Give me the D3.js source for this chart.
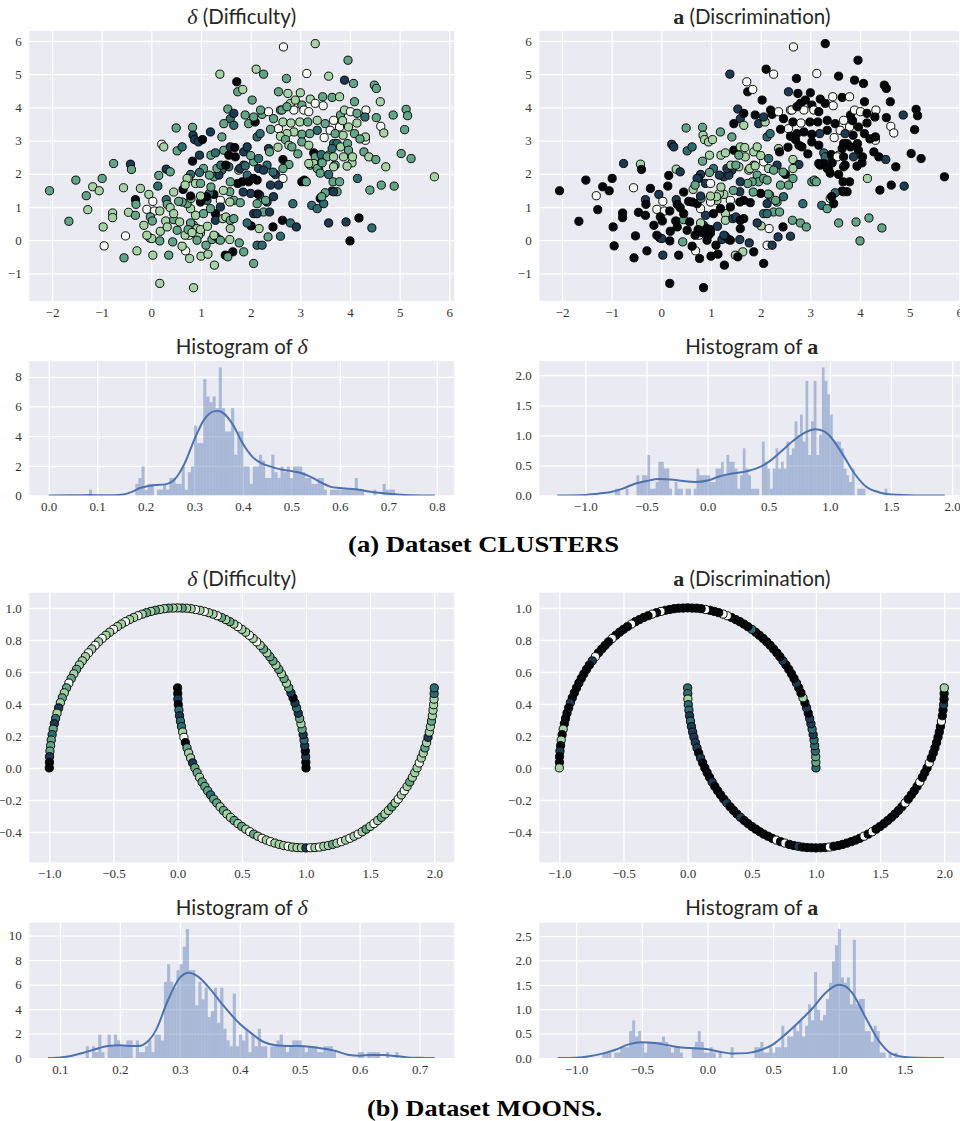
<!DOCTYPE html>
<html>
<head>
<meta charset="utf-8">
<script src="https://cdn.jsdelivr.net/npm/d3@7"></script>
<style>
  body { margin: 0; background: #fff; }
  svg { display: block; }
</style>
</head>
<body>
<svg id="fig" width="960" height="1121"></svg>
<script>
// ---------------- CLUSTERS dataset: [x, y, delta level, a level] ----------------
// level 0 = lightest ... 5 = darkest on the cubehelix-style ramp
const clusterPoints = [
  [2.66,5.82,0,0],[3.30,5.92,1,5],[1.38,5.00,1,4],[2.11,5.15,1,5],[2.26,5.00,2,0],[3.13,5.02,0,0],
  [3.57,4.94,1,5],[3.96,5.42,2,5],[3.89,4.82,4,5],[4.07,4.72,2,5],[4.49,4.67,2,5],[4.53,4.57,2,5],
  [2.72,4.87,2,5],[1.72,4.77,5,0],[1.74,4.47,2,5],[1.84,4.54,1,0],[2.03,4.22,2,5],[2.56,4.47,2,4],
  [2.75,4.42,1,5],[3.00,4.44,1,5],[3.20,4.25,1,5],[3.45,4.32,2,0],[3.64,4.30,2,5],[3.79,4.32,1,0],
  [4.09,4.17,2,5],[4.61,4.17,1,5],[2.80,4.12,1,5],[3.03,4.07,2,5],[3.30,4.12,0,5],[3.46,4.05,0,0],
  [2.60,3.92,2,0],[1.54,3.95,2,4],[1.59,3.66,3,4],[1.46,3.51,2,5],[1.66,3.46,3,1],[1.89,3.77,2,5],
  [1.96,3.51,2,4],[2.09,3.56,5,1],[2.23,3.79,2,5],[2.36,3.87,0,0],[2.46,3.66,2,5],[2.63,3.92,2,0],
  [2.56,3.36,0,0],[2.40,3.34,2,5],[2.65,3.56,1,5],[2.81,3.53,1,0],[2.87,3.92,0,0],[3.07,3.92,0,0],
  [3.17,3.87,0,5],[2.99,3.56,1,5],[3.15,3.56,2,5],[3.34,3.61,1,5],[3.50,3.51,2,5],[3.67,3.61,0,0],
  [3.81,3.77,2,5],[3.89,3.92,1,0],[4.01,3.87,0,0],[4.14,3.82,2,5],[4.32,3.92,0,0],[4.30,3.71,3,5],
  [4.53,3.69,2,5],[4.87,3.77,2,4],[5.13,3.94,2,5],[5.16,3.75,2,5],[4.62,3.43,0,0],[4.68,3.23,1,0],
  [5.10,3.33,2,5],[3.79,3.41,0,0],[3.60,3.31,0,0],[3.97,3.41,1,5],[4.14,3.53,1,5],[4.09,3.21,2,5],
  [3.86,3.16,1,5],[3.70,3.21,2,4],[3.48,3.09,0,0],[3.34,3.31,3,5],[3.19,3.21,2,4],[3.03,3.19,2,5],
  [2.87,3.26,1,5],[2.73,3.21,1,5],[2.60,3.13,1,5],[2.70,3.03,2,5],[2.13,3.11,3,3],[2.19,3.21,3,3],
  [1.66,3.82,4,5],[1.19,3.26,4,2],[0.83,3.40,2,2],[0.84,3.16,4,1],[0.50,3.38,2,2],[1.42,3.11,2,2],
  [4.31,3.01,0,0],[4.31,3.11,1,5],[4.28,2.66,2,5],[0.21,2.89,0,4],[0.25,2.81,1,4],[0.52,2.69,2,3],
  [0.62,2.81,3,3],[0.87,3.03,4,1],[0.95,2.96,4,1],[1.03,3.03,5,1],[0.97,2.56,4,1],[0.83,2.38,5,2],
  [1.20,2.56,2,1],[1.29,2.63,3,1],[1.46,2.71,2,5],[1.59,2.81,4,1],[1.68,2.79,5,1],[1.69,2.51,5,1],
  [1.56,2.56,5,2],[1.86,2.66,4,1],[1.93,2.81,4,1],[2.06,2.36,2,0],[2.16,2.46,3,3],[2.16,2.16,4,1],
  [2.33,2.26,3,4],[2.36,2.76,4,1],[2.38,2.66,2,5],[2.65,2.43,5,1],[2.77,2.28,2,4],[2.65,2.16,2,1],
  [2.50,1.98,4,5],[3.27,2.63,5,3],[3.30,2.51,2,3],[3.42,2.58,3,5],[3.57,2.56,1,0],[3.67,2.91,3,5],
  [3.74,2.91,3,5],[3.64,2.76,3,5],[3.81,2.81,1,5],[3.95,2.91,2,5],[3.97,2.71,2,5],[3.87,2.51,1,4],
  [4.04,2.33,1,5],[3.94,2.23,1,5],[3.70,2.26,2,5],[3.54,2.51,2,0],[3.20,2.26,2,5],[3.34,2.23,2,0],
  [3.37,2.13,3,5],[4.38,2.51,1,5],[4.52,2.43,2,4],[4.72,2.21,1,5],[5.03,2.61,2,5],[5.23,2.46,2,5],
  [5.70,1.91,1,5],[2.77,2.86,1,5],[2.83,2.81,2,5],[3.03,2.96,2,5],[3.17,2.86,1,5],[1.86,2.26,3,2],
  [1.93,1.96,3,2],[1.76,2.11,1,1],[1.56,2.21,3,1],[1.42,2.11,3,4],[1.26,1.91,2,4],[1.36,1.96,4,4],
  [1.05,2.16,2,3],[0.97,2.04,3,2],[0.79,1.98,3,4],[0.75,1.86,1,4],[0.64,1.53,5,1],[0.30,2.14,4,1],
  [0.38,2.06,2,4],[-0.42,2.29,4,1],[-0.40,2.13,2,5],[-0.76,2.31,2,4],[-0.99,1.86,2,5],[-1.52,1.81,2,5],
  [-1.18,1.61,1,5],[-1.05,1.49,1,5],[-2.05,1.49,2,5],[-1.31,1.34,2,0],[-1.66,0.57,2,5],[-1.28,0.92,1,5],
  [-0.97,0.40,1,5],[-0.95,-0.17,0,5],[-0.78,0.82,1,5],[-0.78,0.68,1,5],[-0.56,1.58,1,0],[-0.46,0.84,1,5],
  [-0.52,0.13,0,5],[-0.55,-0.53,2,5],[-0.29,-0.32,1,5],[-0.32,0.75,2,5],[-0.32,1.22,5,4],[-0.22,1.56,1,5],
  [-0.31,1.08,2,5],[-0.05,1.38,1,4],[0.03,1.17,0,0],[-0.09,0.93,0,0],[0.06,0.88,0,0],[-0.02,0.70,2,5],
  [0.02,0.58,2,5],[0.17,0.88,1,5],[0.13,1.63,3,5],[0.30,1.22,3,4],[0.32,1.08,2,5],[0.38,0.98,1,5],
  [0.29,0.58,1,5],[0.45,0.62,2,2],[0.57,0.55,1,5],[0.18,0.27,1,5],[-0.03,0.07,1,4],[0.01,0.05,1,4],
  [0.17,-0.02,2,5],[0.03,-0.45,1,4],[0.35,-0.45,2,5],[0.43,-0.05,2,2],[0.69,-0.32,0,0],[0.62,-0.18,1,5],
  [0.76,0.15,0,0],[0.77,-0.55,1,5],[0.68,0.15,1,5],[0.17,-1.30,1,5],[0.85,-1.43,1,5],[1.00,-0.48,1,5],
  [1.14,-0.42,1,5],[1.27,-0.75,1,5],[1.22,0.02,2,4],[1.36,0.02,2,5],[1.29,0.12,4,5],[0.99,0.22,1,5],
  [0.95,0.15,1,5],[0.85,0.45,2,4],[0.79,0.52,2,1],[0.74,0.32,2,5],[0.92,0.35,1,5],[0.99,0.32,1,5],
  [1.13,0.42,1,4],[1.59,0.35,1,5],[1.58,0.02,1,4],[1.49,-0.45,5,1],[1.64,-0.35,5,1],[1.54,-0.50,2,5],
  [1.77,-0.08,2,4],[1.86,-0.35,2,5],[2.06,-0.70,2,5],[2.13,-0.15,3,0],[2.23,-0.15,3,4],[2.17,0.35,1,0],
  [2.01,0.43,5,1],[1.93,0.52,3,4],[2.60,0.12,3,4],[2.45,0.40,5,5],[2.64,0.60,5,2],[2.80,0.52,3,2],
  [2.92,0.40,4,2],[3.57,0.52,4,2],[3.92,0.55,4,2],[4.00,-0.02,5,2],[4.18,0.67,5,2],[4.44,0.37,3,2],
  [4.40,1.51,2,5],[4.63,1.66,2,5],[4.89,1.63,2,4],[4.15,1.86,3,1],[3.40,1.26,5,1],[3.47,1.10,3,5],
  [3.23,1.05,3,3],[3.34,0.95,3,2],[3.66,1.76,2,5],[3.79,1.76,2,5],[3.64,1.48,4,5],[3.74,1.46,2,5],
  [3.50,1.43,2,3],[3.03,1.76,5,2],[3.08,1.81,5,2],[3.12,1.76,2,2],[3.27,2.31,1,5],[3.17,2.31,1,5],
  [3.34,2.16,2,5],[3.44,2.33,2,5],[3.67,2.51,1,5],[2.65,1.86,0,2],[2.56,1.66,4,2],[2.40,1.66,4,2],
  [2.46,1.31,4,3],[2.33,1.15,4,2],[2.26,0.85,2,2],[2.13,1.10,2,4],[2.18,1.36,3,2],[2.15,1.39,5,2],
  [2.00,1.41,4,5],[2.06,0.80,4,3],[2.13,0.80,4,3],[2.38,0.85,4,2],[2.30,1.20,2,2],[1.96,1.76,5,2],
  [1.83,1.76,5,2],[1.74,1.71,5,2],[2.06,1.86,5,2],[2.13,1.81,5,2],[2.26,2.11,4,2],[1.78,2.16,4,1],
  [1.89,2.24,3,1],[1.59,1.76,2,4],[1.58,1.46,2,4],[1.66,1.20,2,5],[1.58,1.15,1,5],[1.39,1.20,0,0],
  [1.26,1.38,5,1],[1.17,1.41,3,1],[1.12,1.20,3,1],[0.99,1.15,5,0],[1.11,1.31,5,1],[1.29,0.80,5,1],
  [1.29,0.60,4,1],[1.39,1.00,4,5],[1.44,0.65,1,4],[1.50,0.70,1,4],[1.59,0.60,2,5],[1.19,0.95,2,5],
  [1.05,0.80,2,5],[0.89,0.75,1,4],[0.79,0.95,1,0],[0.72,1.10,2,5],[0.62,1.15,2,5],[0.80,1.26,1,2],
  [0.79,1.33,5,4],[0.72,1.86,1,4],[0.68,1.66,1,2],[0.89,1.71,1,4],[0.99,1.71,2,0],[1.17,1.96,2,4],
  [1.32,2.16,2,4],[1.40,2.26,3,1],[1.50,2.26,5,2],[0.55,1.17,2,5],[0.45,0.80,1,5],[-0.09,0.15,1,5],
  [0.99,1.33,1,1],[1.79,1.13,2,5],[3.67,1.46,4,5],[3.43,1.31,2,5],
  [1.66,0.65,2,5],[1.39,0.00,2,5],[1.26,0.15,1,4],[0.92,0.00,2,5],[0.82,0.23,1,5],[0.52,0.30,2,5],
  [0.32,0.40,1,5],[3.67,2.21,1,5],[4.05,2.51,1,5],[3.40,2.02,2,5],[3.57,1.98,3,5],[2.90,4.22,1,5],
  [2.73,4.02,2,5],[2.06,3.71,2,4],[2.20,3.92,2,5],[1.20,1.60,2,1],[1.45,1.50,1,2],[1.85,1.45,4,2],
  [2.45,2.05,3,2],[2.00,2.55,2,1],[2.55,2.80,1,5],[2.95,2.60,2,5],[3.85,3.60,1,5],[4.20,3.05,2,5],
  [0.45,1.45,1,5],[0.15,1.95,2,5],[-0.15,0.45,1,5],[1.10,-0.15,2,5],[2.35,0.10,2,4],[2.85,1.10,3,3]
];

// ---------------- MOONS dataset ----------------
const moonUpperX = [1.000,0.999,0.998,0.995,0.990,0.985,0.978,0.970,0.961,0.951,0.940,0.927,0.914,0.899,0.883,0.866,0.848,0.829,0.809,0.788,0.766,0.743,0.719,0.695,0.669,0.643,0.616,0.588,0.559,0.530,0.500,0.469,0.438,0.407,0.375,0.342,0.309,0.276,0.242,0.208,0.174,0.139,0.105,0.070,0.035,0.000,-0.035,-0.070,-0.105,-0.139,-0.174,-0.208,-0.242,-0.276,-0.309,-0.342,-0.375,-0.407,-0.438,-0.469,-0.500,-0.530,-0.559,-0.588,-0.616,-0.643,-0.669,-0.695,-0.719,-0.743,-0.766,-0.788,-0.809,-0.829,-0.848,-0.866,-0.883,-0.899,-0.914,-0.927,-0.940,-0.951,-0.961,-0.970,-0.978,-0.985,-0.990,-0.995,-0.998,-0.999,-1.000];
const moonUpperY = [0.000,0.035,0.070,0.105,0.139,0.174,0.208,0.242,0.276,0.309,0.342,0.375,0.407,0.438,0.469,0.500,0.530,0.559,0.588,0.616,0.643,0.669,0.695,0.719,0.743,0.766,0.788,0.809,0.829,0.848,0.866,0.883,0.899,0.914,0.927,0.940,0.951,0.961,0.970,0.978,0.985,0.990,0.995,0.998,0.999,1.000,0.999,0.998,0.995,0.990,0.985,0.978,0.970,0.961,0.951,0.940,0.927,0.914,0.899,0.883,0.866,0.848,0.829,0.809,0.788,0.766,0.743,0.719,0.695,0.669,0.643,0.616,0.588,0.559,0.530,0.500,0.469,0.438,0.407,0.375,0.342,0.309,0.276,0.242,0.208,0.174,0.139,0.105,0.070,0.035,0.000];
const moonLowerX = [0.000,0.001,0.002,0.005,0.010,0.015,0.022,0.030,0.039,0.049,0.060,0.073,0.086,0.101,0.117,0.134,0.152,0.171,0.191,0.212,0.234,0.257,0.281,0.305,0.331,0.357,0.384,0.412,0.441,0.470,0.500,0.531,0.562,0.593,0.625,0.658,0.691,0.724,0.758,0.792,0.826,0.861,0.895,0.930,0.965,1.000,1.035,1.070,1.105,1.139,1.174,1.208,1.242,1.276,1.309,1.342,1.375,1.407,1.438,1.469,1.500,1.530,1.559,1.588,1.616,1.643,1.669,1.695,1.719,1.743,1.766,1.788,1.809,1.829,1.848,1.866,1.883,1.899,1.914,1.927,1.940,1.951,1.961,1.970,1.978,1.985,1.990,1.995,1.998,1.999,2.000];
const moonLowerY = [0.500,0.465,0.430,0.395,0.361,0.326,0.292,0.258,0.224,0.191,0.158,0.125,0.093,0.062,0.031,0.000,-0.030,-0.059,-0.088,-0.116,-0.143,-0.169,-0.195,-0.219,-0.243,-0.266,-0.288,-0.309,-0.329,-0.348,-0.366,-0.383,-0.399,-0.414,-0.427,-0.440,-0.451,-0.461,-0.470,-0.478,-0.485,-0.490,-0.495,-0.498,-0.499,-0.500,-0.499,-0.498,-0.495,-0.490,-0.485,-0.478,-0.470,-0.461,-0.451,-0.440,-0.427,-0.414,-0.399,-0.383,-0.366,-0.348,-0.329,-0.309,-0.288,-0.266,-0.243,-0.219,-0.195,-0.169,-0.143,-0.116,-0.088,-0.059,-0.030,0.000,0.031,0.062,0.093,0.125,0.158,0.191,0.224,0.258,0.292,0.326,0.361,0.395,0.430,0.465,0.500];
const moonUpperDelta = [5,5,4,5,4,3,4,2,1,2, 4,3,4,5,4,2,1,2,1,2, 1,2,2,1,2,1,0,1,0,1, 1,0,1,2,1,2,0,1,1,0, 1,0,1,1,2,1,1,2,1,1, 2,1,2,1,0,1,1,0,1,1, 0,1,1,0,1,0,1,0,1,1, 1,2,1,2,0,2,1,2,1,4, 1,3,4,2,3,2,2,2,4,5, 5];
const moonLowerDelta = [5,5,4,5,3,4,3,3,1,0, 5,2,1,1,4,2,2,1,2,2, 2,3,2,2,1,2,1,1,2,1, 2,1,0,2,1,0,1,0,1,1, 1,0,1,1,1,4,0,1,0,1, 1,2,1,0,1,0,1,0,1,2, 1,0,1,2,1,1,2,1,0,1, 0,1,2,1,1,1,0,1,1,2, 1,4,1,1,2,1,1,1,1,3, 3];
const moonUpperA = [3,2,2,3,3,3,4,3,4,4, 5,4,5,1,5,5,4,5,5,5, 5,4,5,5,5,5,5,5,5,5, 3,5,5,5,5,5,0,0,5,5, 5,0,5,5,5,5,5,5,5,5, 5,0,5,0,5,5,5,5,0,5, 5,5,5,0,5,5,5,5,0,4, 5,5,5,5,5,5,5,5,4,5, 5,5,5,1,5,1,5,4,5,5, 1];
const moonLowerA = [3,3,1,3,3,4,3,4,4,4, 4,4,5,4,5,5,5,5,4,5, 5,5,5,4,5,5,5,4,5,5, 5,5,5,5,5,5,0,5,0,5, 5,4,5,5,5,5,5,5,0,5, 5,5,5,5,5,5,0,5,0,5, 5,5,5,5,5,5,5,0,5,5, 5,5,0,5,5,5,0,5,5,5, 5,5,5,5,0,5,5,4,5,5, 1];

// ---------------- histograms (bin counts) and density curves ----------------
const sampleCount = 400;
const clustDeltaBins = { start: 0.083, width: 0.00637 };
const clustDeltaCounts = [1,0,0,0,0,0,0,0,0,0,0,0,0,0,0,2,3,5,1,2,2,0,1,1,2,1,3,3,2,2,5,1,4,5,12,9,9,20,17,16,17,15,22,15,11,11,15,7,11,11,5,5,2,5,5,7,6,3,3,7,4,3,5,4,5,3,5,5,5,4,3,3,2,2,3,3,1,0,1,1,1,1,1,1,1,1,3,1,1,0,0,0,1,0,0,2,1,1,1,0];
const clustDeltaKdeX = [0.00,0.05,0.085,0.12,0.15,0.17,0.19,0.20,0.22,0.24,0.26,0.28,0.30,0.32,0.34,0.35,0.36,0.38,0.40,0.42,0.44,0.46,0.48,0.50,0.52,0.54,0.56,0.58,0.60,0.62,0.64,0.66,0.68,0.70,0.72,0.75,0.796];
const clustDeltaKdeY = [0.00,0.01,0.03,0.01,0.05,0.23,0.52,0.60,0.70,0.75,1.10,2.15,3.75,5.10,5.67,5.70,5.55,4.75,3.50,2.60,2.15,1.93,1.75,1.65,1.52,1.25,0.90,0.60,0.50,0.45,0.38,0.27,0.18,0.11,0.07,0.02,0.00];

const clustABins = { start: -0.76, width: 0.0223 };
const clustACounts = [1,1,0,0,1,0,0,0,3,2,3,3,6,1,1,2,5,5,4,4,1,0,2,1,1,0,1,1,0,1,4,3,3,3,3,2,2,4,4,5,3,6,5,5,4,1,3,7,4,3,1,1,1,0,8,5,4,1,4,7,4,5,4,8,6,7,11,9,12,8,17,6,11,17,6,9,19,17,15,12,8,8,8,7,4,3,2,4,0,1,1,1,0,0,0,0,0,0,0,1];
const clustAKdeX = [-1.23,-1.0,-0.9,-0.8,-0.7,-0.6,-0.5,-0.4,-0.3,-0.2,-0.1,0.0,0.1,0.2,0.3,0.4,0.5,0.6,0.7,0.8,0.88,0.95,1.0,1.1,1.2,1.3,1.4,1.5,1.7,1.94];
const clustAKdeY = [0,0.01,0.03,0.055,0.11,0.19,0.24,0.275,0.265,0.24,0.225,0.25,0.32,0.365,0.395,0.45,0.56,0.73,0.91,1.05,1.10,1.07,0.99,0.70,0.37,0.14,0.055,0.017,0.002,0];

const moonDeltaBins = { start: 0.143, width: 0.00522 };
const moonDeltaCounts = [2,0,2,1,4,1,0,4,2,4,3,2,2,3,3,0,3,1,1,2,3,1,4,4,3,13,16,13,12,15,16,19,22,15,15,9,13,10,12,7,8,12,6,12,5,3,2,11,2,4,3,5,1,4,2,5,2,2,0,2,2,3,4,2,1,2,3,3,3,2,1,2,2,2,1,1,2,2,2,1,0,0,0,0,0,0,0,1,1,0,1,1,1,1,0,0,1,0,0,1];
const moonDeltaKdeX = [0.08,0.10,0.12,0.14,0.16,0.18,0.20,0.22,0.23,0.24,0.26,0.28,0.30,0.315,0.33,0.35,0.37,0.40,0.42,0.44,0.46,0.48,0.50,0.52,0.54,0.56,0.58,0.60,0.62,0.64,0.66,0.68,0.70,0.725];
const moonDeltaKdeY = [0,0.05,0.19,0.44,0.74,0.98,1.04,0.98,0.98,1.12,2.26,4.70,6.57,6.98,6.68,5.67,4.44,2.80,1.99,1.31,1.04,0.98,0.98,0.90,0.76,0.57,0.27,0.19,0.25,0.25,0.16,0.05,0.02,0];

const moonABins = { start: -0.80, width: 0.0227 };
const moonACounts = [1,1,1,0,1,1,2,2,2,5,7,4,5,3,1,3,3,3,3,3,4,3,2,1,2,2,1,0,0,0,2,3,5,3,1,1,2,1,0,1,0,0,0,2,0,0,0,0,0,0,0,2,2,3,1,1,2,1,2,2,6,2,4,4,6,5,7,4,6,10,7,16,9,7,8,11,14,18,21,24,15,14,15,10,22,10,11,11,5,5,3,6,5,1,1,0,1,0,1,0];
const moonAKdeX = [-1.14,-1.0,-0.9,-0.8,-0.7,-0.6,-0.5,-0.4,-0.3,-0.2,-0.1,0.0,0.1,0.2,0.3,0.4,0.5,0.6,0.7,0.8,0.9,1.0,1.05,1.1,1.2,1.3,1.4,1.5,1.6,1.8];
const moonAKdeY = [0,0.007,0.035,0.09,0.17,0.28,0.325,0.31,0.26,0.215,0.2,0.18,0.125,0.09,0.10,0.16,0.28,0.5,0.75,1.02,1.34,1.5,1.47,1.34,0.85,0.37,0.09,0.02,0.005,0];

// ---------------- axis limits and ticks ----------------
const clustXLim = [-2.457, 6.1], clustYLim = [-1.83, 6.3];
const clustXTicks = [-2,-1,0,1,2,3,4,5,6], clustYTicks = [-1,0,1,2,3,4,5,6];
const moonXLim = [-1.156, 2.156], moonYLim = [-0.59, 1.095];
const moonXTicks = [-1.0,-0.5,0.0,0.5,1.0,1.5,2.0], moonYTicks = [-0.4,-0.2,0.0,0.2,0.4,0.6,0.8,1.0];
const clustDeltaXLim = [-0.04, 0.836], clustDeltaXTicks = [0,0.1,0.2,0.3,0.4,0.5,0.6,0.7,0.8], clustDeltaYTicks = [0,2,4,6,8];
const clustAXLim = [-1.377, 2.1], clustAXTicks = [-1.0,-0.5,0,0.5,1.0,1.5,2.0], clustAYTicks = [0,0.5,1.0,1.5,2.0];
const moonDeltaXLim = [0.0488, 0.758], moonDeltaXTicks = [0.1,0.2,0.3,0.4,0.5,0.6,0.7], moonDeltaYTicks = [0,2,4,6,8,10];
const moonAXLim = [-1.28, 1.955], moonAXTicks = [-1.0,-0.5,0,0.5,1.0,1.5], moonAYTicks = [0,0.5,1.0,1.5,2.0,2.5];

// ---------------- drawing ----------------
const BG = '#eaeaf2';
const ramp = ['#f7faf4', '#a6d3a5', '#62a587', '#2e6c71', '#1c3a51', '#05070b'];
const HIST = '#4c72b0';
const SANS = 'Lato, "Open Sans", sans-serif';
const SERIF = '"Liberation Serif", "DejaVu Serif", serif';

const svg = d3.select('#fig');
svg.append('rect').attr('width', 960).attr('height', 1121).attr('fill', '#fff');

const colL = { x0: 29.3, x1: 454.3 }, colR = { x0: 539.3, x1: 964.3 };
const rowScatterA = { y0: 31, y1: 301 }, rowHistA = { y0: 361, y1: 495.5 };
const rowScatterB = { y0: 592.7, y1: 862.3 }, rowHistB = { y0: 922.7, y1: 1058 };
const cell = (col, row) => Object.assign({}, col, row);

let clipId = 0;

function frame(box, xDom, yDom, xTicks, yTicks, xFmt, yFmt) {
  const g = svg.append('g');
  const x = d3.scaleLinear().domain(xDom).range([box.x0, box.x1]);
  const y = d3.scaleLinear().domain(yDom).range([box.y1, box.y0]);
  g.append('rect').attr('x', box.x0).attr('y', box.y0)
    .attr('width', box.x1 - box.x0).attr('height', box.y1 - box.y0).attr('fill', BG);
  // grid lines
  const gx = g.append('g').attr('transform', `translate(0,${box.y1})`)
    .call(d3.axisBottom(x).tickValues(xTicks).tickSize(-(box.y1 - box.y0)).tickFormat(''));
  const gy = g.append('g').attr('transform', `translate(${box.x0},0)`)
    .call(d3.axisLeft(y).tickValues(yTicks).tickSize(-(box.x1 - box.x0)).tickFormat(''));
  [gx, gy].forEach(s => {
    s.select('.domain').remove();
    s.selectAll('line').attr('stroke', '#fff').attr('stroke-width', 1.25);
  });
  // tick labels
  const lx = g.append('g').attr('transform', `translate(0,${box.y1})`)
    .call(d3.axisBottom(x).tickValues(xTicks).tickSize(0).tickPadding(6.6).tickFormat(xFmt));
  const ly = g.append('g').attr('transform', `translate(${box.x0},0)`)
    .call(d3.axisLeft(y).tickValues(yTicks).tickSize(0).tickPadding(7.6).tickFormat(yFmt));
  [lx, ly].forEach(s => {
    s.select('.domain').remove();
    s.selectAll('text').attr('font-family', SERIF).attr('font-size', 13).attr('fill', '#333');
  });
  const id = 'clip' + (clipId++);
  svg.append('clipPath').attr('id', id).append('rect')
    .attr('x', box.x0).attr('y', box.y0).attr('width', box.x1 - box.x0).attr('height', box.y1 - box.y0);
  const plot = g.append('g').attr('clip-path', `url(#${id})`);
  return { g, x, y, plot };
}

function title(box, baseline, parts) {
  const t = svg.append('text').attr('x', (box.x0 + box.x1) / 2).attr('y', baseline)
    .attr('text-anchor', 'middle').attr('fill', '#262626');
  parts.forEach(p => {
    const s = t.append('tspan').text(p.text);
    if (p.kind === 'delta') s.attr('font-family', SERIF).attr('font-style', 'italic').attr('font-size', 22);
    else if (p.kind === 'bold') s.attr('font-family', SERIF).attr('font-weight', 'bold').attr('font-size', 22);
    else s.attr('font-family', SANS).attr('font-size', 20.5);
  });
}

function scatter(box, xs, ys, levels, xDom, yDom, xTicks, yTicks, fmt) {
  const f = frame(box, xDom, yDom, xTicks, yTicks, fmt, fmt);
  const idx = d3.range(xs.length);
  f.plot.selectAll('circle.pt').data(idx).join('circle').attr('class', 'pt')
    .attr('cx', i => f.x(xs[i])).attr('cy', i => f.y(ys[i])).attr('r', 4.1)
    .attr('fill', i => ramp[levels[i]]).attr('stroke', '#000').attr('stroke-width', 0.95);
  return f;
}

function hist(box, bins, counts, kx, ky, xDom, xTicks, yTicks, xFmt, yFmt) {
  const dens = counts.map(c => c / (sampleCount * bins.width));
  const yMax = Math.max(d3.max(dens), d3.max(ky)) * 1.05;
  const f = frame(box, xDom, [0, yMax], xTicks, yTicks, xFmt, yFmt);
  const bars = counts.map((c, i) => ({ x0: bins.start + i * bins.width, x1: bins.start + (i + 1) * bins.width, h: dens[i] }))
    .filter(b => b.h > 0);
  f.plot.selectAll('rect.bar').data(bars).join('rect').attr('class', 'bar')
    .attr('x', b => f.x(b.x0)).attr('width', b => f.x(b.x1) - f.x(b.x0))
    .attr('y', b => f.y(b.h)).attr('height', b => f.y(0) - f.y(b.h))
    .attr('fill', HIST).attr('fill-opacity', 0.42);
  const line = d3.line().x(d => f.x(d[0])).y(d => f.y(d[1])).curve(d3.curveMonotoneX);
  f.plot.append('path').datum(kx.map((v, i) => [v, ky[i]])).attr('d', line)
    .attr('fill', 'none').attr('stroke', HIST).attr('stroke-width', 2);
  return f;
}

const intFmt = d3.format('d'), f1 = d3.format('.1f');

// CLUSTERS
const cx = clusterPoints.map(p => p[0]), cy = clusterPoints.map(p => p[1]);
scatter(cell(colL, rowScatterA), cx, cy, clusterPoints.map(p => p[2]), clustXLim, clustYLim, clustXTicks, clustYTicks, intFmt);
scatter(cell(colR, rowScatterA), cx, cy, clusterPoints.map(p => p[3]), clustXLim, clustYLim, clustXTicks, clustYTicks, intFmt);
title(colL, 24, [{ kind: 'delta', text: 'δ' }, { kind: 'sans', text: ' (Difficulty)' }]);
title(colR, 24, [{ kind: 'bold', text: 'a' }, { kind: 'sans', text: ' (Discrimination)' }]);

hist(cell(colL, rowHistA), clustDeltaBins, clustDeltaCounts, clustDeltaKdeX, clustDeltaKdeY, clustDeltaXLim, clustDeltaXTicks, clustDeltaYTicks, f1, intFmt);
hist(cell(colR, rowHistA), clustABins, clustACounts, clustAKdeX, clustAKdeY, clustAXLim, clustAXTicks, clustAYTicks, f1, f1);
title(colL, 353.5, [{ kind: 'sans', text: 'Histogram of ' }, { kind: 'delta', text: 'δ' }]);
title(colR, 353.5, [{ kind: 'sans', text: 'Histogram of ' }, { kind: 'bold', text: 'a' }]);

svg.append('text').attr('x', 483.5).attr('y', 551.5).attr('text-anchor', 'middle')
  .attr('font-family', SERIF).attr('font-weight', 'bold').attr('font-size', 23)
  .attr('textLength', 271).attr('lengthAdjust', 'spacingAndGlyphs').attr('fill', '#000')
  .text('(a) Dataset CLUSTERS');

// MOONS
const mX = moonUpperX.concat(moonLowerX), mY = moonUpperY.concat(moonLowerY);
scatter(cell(colL, rowScatterB), mX, mY, moonUpperDelta.concat(moonLowerDelta), moonXLim, moonYLim, moonXTicks, moonYTicks, f1);
scatter(cell(colR, rowScatterB), mX, mY, moonUpperA.concat(moonLowerA), moonXLim, moonYLim, moonXTicks, moonYTicks, f1);
title(colL, 585.5, [{ kind: 'delta', text: 'δ' }, { kind: 'sans', text: ' (Difficulty)' }]);
title(colR, 585.5, [{ kind: 'bold', text: 'a' }, { kind: 'sans', text: ' (Discrimination)' }]);

hist(cell(colL, rowHistB), moonDeltaBins, moonDeltaCounts, moonDeltaKdeX, moonDeltaKdeY, moonDeltaXLim, moonDeltaXTicks, moonDeltaYTicks, f1, intFmt);
hist(cell(colR, rowHistB), moonABins, moonACounts, moonAKdeX, moonAKdeY, moonAXLim, moonAXTicks, moonAYTicks, f1, f1);
title(colL, 915, [{ kind: 'sans', text: 'Histogram of ' }, { kind: 'delta', text: 'δ' }]);
title(colR, 915, [{ kind: 'sans', text: 'Histogram of ' }, { kind: 'bold', text: 'a' }]);

svg.append('text').attr('x', 484.5).attr('y', 1115.5).attr('text-anchor', 'middle')
  .attr('font-family', SERIF).attr('font-weight', 'bold').attr('font-size', 23)
  .attr('textLength', 235).attr('lengthAdjust', 'spacingAndGlyphs').attr('fill', '#000')
  .text('(b) Dataset MOONS.');
</script>
</body>
</html>
